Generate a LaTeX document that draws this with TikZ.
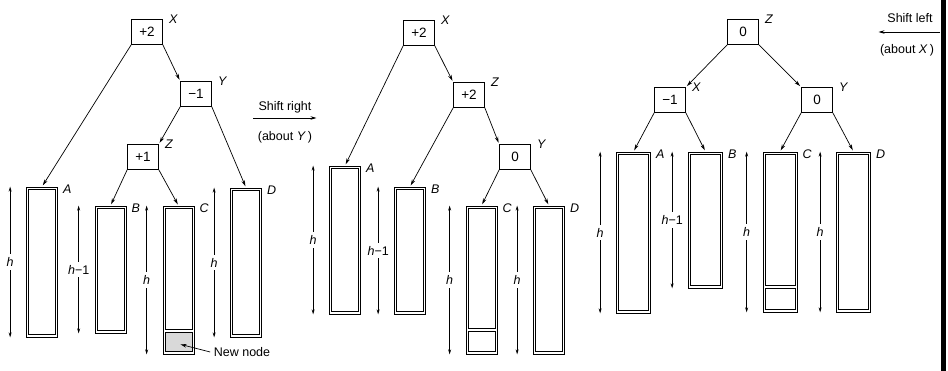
\documentclass[tikz,border=0pt]{standalone}
\usepackage{fontspec}
\setmainfont{Liberation Sans}
\usetikzlibrary{arrows.meta,calc}

\begin{document}
\begin{tikzpicture}[x=1pt,y=-1pt,line width=0.7pt,font=\fontsize{12.5}{15}\selectfont,
  bal/.style={draw,minimum width=31,minimum height=25,inner sep=0pt,font=\fontsize{13.5}{15}\selectfont},
  subtree/.style={draw,minimum width=31,inner sep=0pt},
  tag/.style={anchor=west,inner sep=0pt,xshift=6pt},
  subtag/.style={anchor=west,inner sep=0pt,xshift=5pt,yshift=-3pt},
  link/.style={-{Stealth[length=6pt,width=3.5pt]},shorten >=1.5pt},
  dim/.style={{Stealth[length=5pt,width=3pt]}-{Stealth[length=5pt,width=3pt]}},
  dimlbl/.style={fill=white,inner xsep=1pt,inner ysep=3pt}]
  \useasboundingbox (0,0) rectangle (948,371);

  % before: Z inserted under Y
  \node[bal,label={[tag]north east:\textit{X}}] (X1) at (147,32) {+2};
  \node[bal,label={[tag]north east:\textit{Y}}] (Y1) at (196,94) {−1};
  \node[bal,label={[tag]north east:\textit{Z}}] (Z1) at (143,157) {+1};
  \node[subtree,minimum height=150,label={[subtag]north east:\textit{A}}] (A1) at (42,262) {};
  \node[subtree,minimum height=127,label={[subtag]north east:\textit{B}}] (B1) at (110.5,269.5) {};
  \node[subtree,minimum height=148,label={[subtag]north east:\textit{C}}] (C1) at (178.5,280) {};
  \node[subtree,minimum height=149,label={[subtag]north east:\textit{D}}] (D1) at (246,262.5) {};
  \draw[link] (X1.south west) -- (A1.north);
  \draw[link] (X1.south east) -- (Y1.north west);
  \draw[link] (Y1.south west) -- (Z1.north east);
  \draw[link] (Y1.south east) -- (D1.north);
  \draw[link] (Z1.south west) -- (B1.north);
  \draw[link] (Z1.south east) -- (C1.north);
  \draw[dim] ([xshift=-16pt]A1.north west) -- node[dimlbl]{\textit{h}} ([xshift=-16pt]A1.south west);
  \draw[dim] ([xshift=-16pt]B1.north west) -- node[dimlbl]{\textit{h}−1} ([xshift=-16pt]B1.south west);
  \draw[dim] ([xshift=-16pt]C1.north west) -- node[dimlbl]{\textit{h}} ([xshift=-16pt]C1.south west);
  \draw[dim] ([xshift=-16pt]D1.north west) -- node[dimlbl]{\textit{h}} ([xshift=-16pt]D1.south west);
  % new node
  \coordinate (cut1) at (0,331);
  \fill[gray!30] ($(C1.west |- cut1)+(2.5pt,-1.5pt)$) rectangle ($(C1.south east)+(-2.5pt,2.5pt)$);
  \node (nnlbl) at (242,352) {New node};
  \coordinate (nn) at (179,344);
  \draw[link] (nnlbl.west) -- (nn);

  % shift right
  \node (sr) at (285,107) {Shift right};
  \node (srY) at (285,137) {(about \textit{Y}\,)};
  \coordinate (sr-a) at (253,118);
  \coordinate (sr-b) at (318,118);
  \draw[link] (sr-a) -- (sr-b);

  % after shift right
  \node[bal,label={[tag]north east:\textit{X}}] (X2) at (419,33) {+2};
  \node[bal,label={[tag]north east:\textit{Z}}] (Z2) at (469,95) {+2};
  \node[bal,label={[tag]north east:\textit{Y}}] (Y2) at (515,157) {0};
  \node[subtree,minimum height=148,label={[subtag]north east:\textit{A}}] (A2) at (345,240) {};
  \node[subtree,minimum height=127,label={[subtag]north east:\textit{B}}] (B2) at (410,250.5) {};
  \node[subtree,minimum height=148,label={[subtag]north east:\textit{C}}] (C2) at (481.5,280) {};
  \node[subtree,minimum height=148,label={[subtag]north east:\textit{D}}] (D2) at (549,280) {};
  \draw[link] (X2.south west) -- (A2.north);
  \draw[link] (X2.south east) -- (Z2.north west);
  \draw[link] (Z2.south west) -- (B2.north);
  \draw[link] (Z2.south east) -- (Y2.north west);
  \draw[link] (Y2.south west) -- (C2.north);
  \draw[link] (Y2.south east) -- (D2.north);
  \draw[dim] ([xshift=-16pt]A2.north west) -- node[dimlbl]{\textit{h}} ([xshift=-16pt]A2.south west);
  \draw[dim] ([xshift=-16pt]B2.north west) -- node[dimlbl]{\textit{h}−1} ([xshift=-16pt]B2.south west);
  \draw[dim] ([xshift=-16pt]C2.north west) -- node[dimlbl]{\textit{h}} ([xshift=-16pt]C2.south west);
  \draw[dim] ([xshift=-16pt]D2.north west) -- node[dimlbl]{\textit{h}} ([xshift=-16pt]D2.south west);
  \coordinate (cut2) at (0,330);

  % after shift left
  \node[bal,label={[tag]north east:\textit{Z}}] (Z3) at (743,32) {0};
  \node[bal,label={[tag]north east:\textit{X}}] (X3) at (670,100) {−1};
  \node[bal,label={[tag]north east:\textit{Y}}] (Y3) at (817,100) {0};
  \node[subtree,minimum width=34,minimum height=161,label={[subtag]north east:\textit{A}}] (A3) at (633.5,232.5) {};
  \node[subtree,minimum width=34,minimum height=136,label={[subtag]north east:\textit{B}}] (B3) at (705.5,220) {};
  \node[subtree,minimum width=34,minimum height=160,label={[subtag]north east:\textit{C}}] (C3) at (780,232) {};
  \node[subtree,minimum width=34,minimum height=160,label={[subtag]north east:\textit{D}}] (D3) at (853.5,232) {};
  \draw[link] (Z3.south west) -- (X3.north east);
  \draw[link] (Z3.south east) -- (Y3.north west);
  \draw[link] (X3.south west) -- (A3.north);
  \draw[link] (X3.south east) -- (B3.north);
  \draw[link] (Y3.south west) -- (C3.north);
  \draw[link] (Y3.south east) -- (D3.north);
  \draw[dim] ([xshift=-16pt]A3.north west) -- node[dimlbl]{\textit{h}} ([xshift=-16pt]A3.south west);
  \draw[dim] ([xshift=-16pt]B3.north west) -- node[dimlbl]{\textit{h}−1} ([xshift=-16pt]B3.south west);
  \draw[dim] ([xshift=-16pt]C3.north west) -- node[dimlbl]{\textit{h}} ([xshift=-16pt]C3.south west);
  \draw[dim] ([xshift=-16pt]D3.north west) -- node[dimlbl]{\textit{h}} ([xshift=-16pt]D3.south west);
  \coordinate (cut3) at (0,287);

  % inner walls of the subtrees
  \foreach \n in {A1,B1,D1,A2,B2,D2,A3,B3,D3}
    \draw ($(\n.north west)+(2.5pt,-2.5pt)$) rectangle ($(\n.south east)+(-2.5pt,2.5pt)$);
  \foreach \n/\c in {C1/cut1,C2/cut2,C3/cut3} {
    \draw ($(\n.north west)+(2.5pt,-2.5pt)$) rectangle ($(\n.east |- \c)+(-2.5pt,1.5pt)$);
    \draw ($(\n.west |- \c)+(2.5pt,-1.5pt)$) rectangle ($(\n.south east)+(-2.5pt,2.5pt)$);
  }

  % shift left
  \node (sl) at (910,18) {Shift left};
  \node (slX) at (907,50) {(about \textit{X}\,)};
  \coordinate (sl-a) at (940,32);
  \coordinate (sl-b) at (877,32);
  \draw[link] (sl-a) -- (sl-b);
  \fill (941,0) rectangle (946,371);
\end{tikzpicture}
\end{document}
